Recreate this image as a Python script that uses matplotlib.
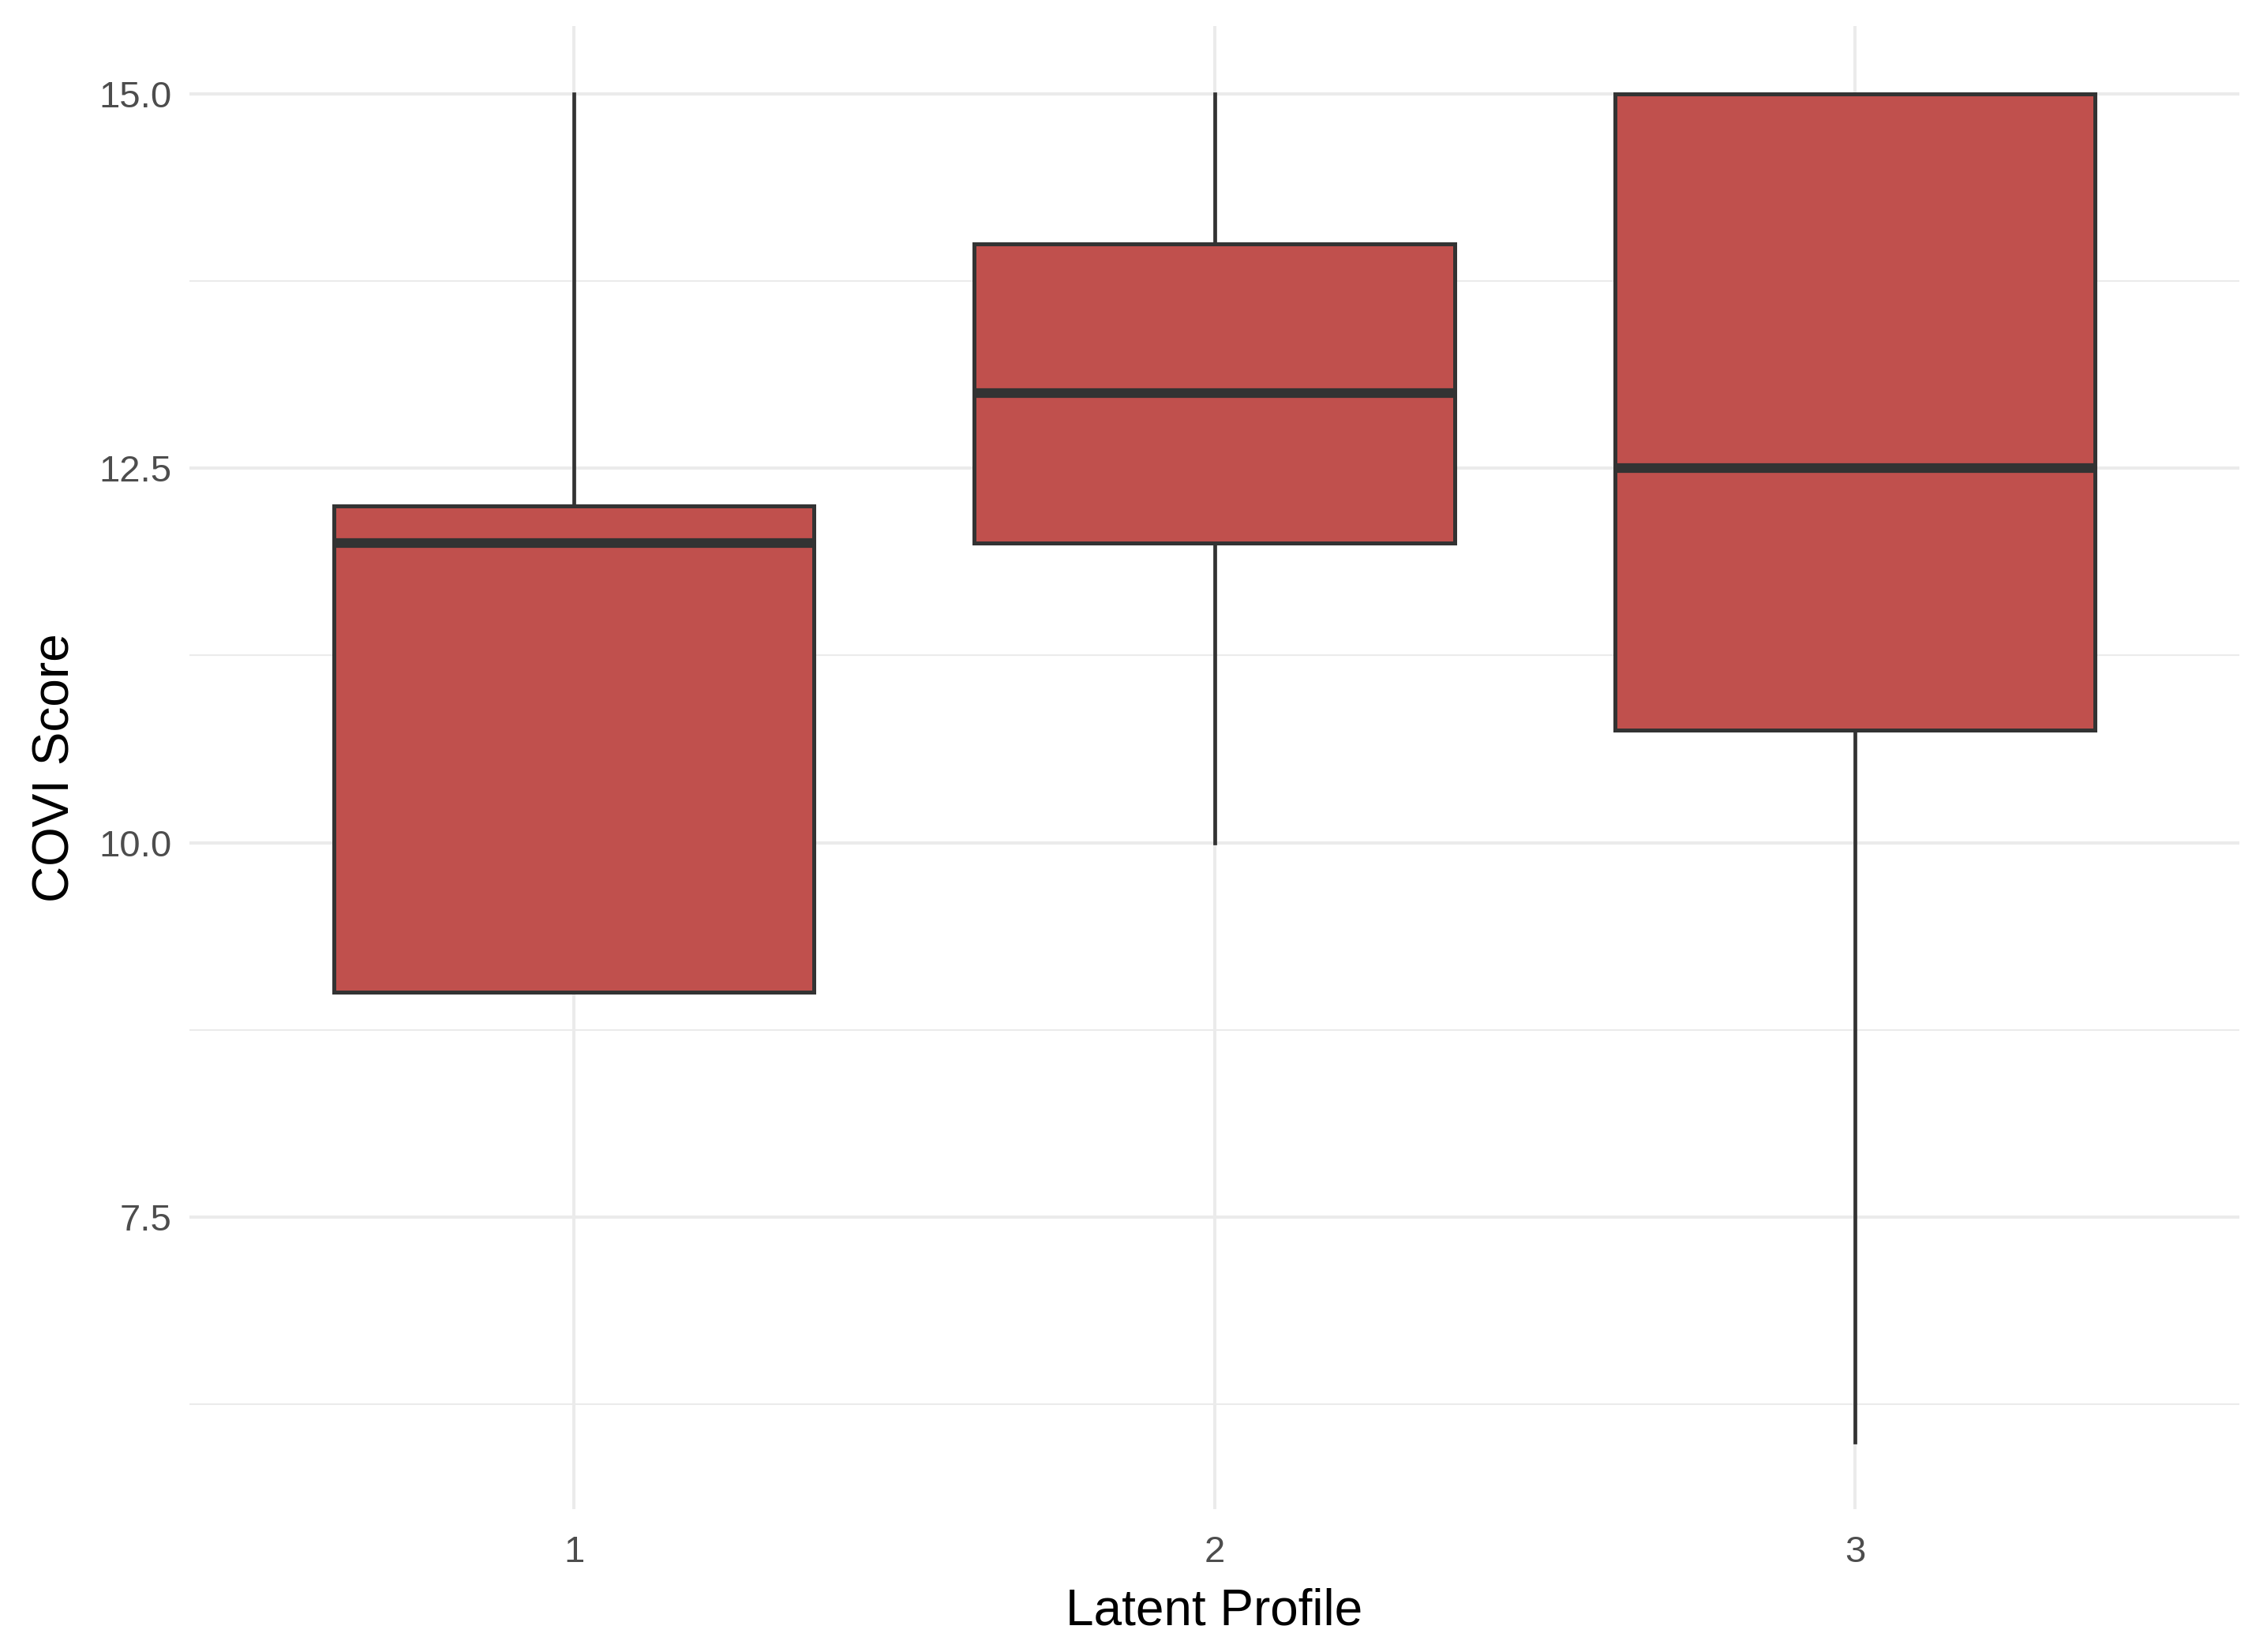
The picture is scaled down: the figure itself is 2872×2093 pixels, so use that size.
import matplotlib
matplotlib.use('Agg')
import matplotlib.pyplot as plt
from matplotlib.ticker import MultipleLocator

# box statistics per latent profile
profiles = ['1', '2', '3']
whisk_lo = [9.0, 10.0, 6.0]
q1       = [9.0, 12.0, 10.75]
median   = [12.0, 13.0, 12.5]
q3       = [12.25, 14.0, 15.0]
whisk_hi = [15.0, 15.0, 15.0]

fill  = '#C0504D'
edge  = '#333333'

plt.rcParams['font.family'] = ['Liberation Sans', 'DejaVu Sans']

fig = plt.figure(figsize=(14.36, 10.465), dpi=200)
ax = fig.add_axes([0.0836, 0.0865, 0.9042, 0.8975])

stats = []
for lab, lo, a, m, b, hi in zip(profiles, whisk_lo, q1, median, q3, whisk_hi):
    stats.append(dict(label=lab, whislo=lo, q1=a, med=m, q3=b, whishi=hi, fliers=[]))

pos = list(range(1, len(profiles) + 1))
ax.bxp(stats, positions=pos, widths=0.75, patch_artist=True, showcaps=False,
       boxprops=dict(facecolor=fill, edgecolor=edge, linewidth=1.8),
       medianprops=dict(color=edge, linewidth=4.4, solid_capstyle='butt'),
       whiskerprops=dict(color=edge, linewidth=1.7),
       zorder=3)

ax.set_xlim(0.4, 3.6)
ax.set_ylim(5.55, 15.45)
ax.yaxis.set_minor_locator(MultipleLocator(1.25))
ax.set_yticks([7.5, 10.0, 12.5, 15.0])
ax.set_yticklabels(['7.5', '10.0', '12.5', '15.0'])
ax.set_xticks(pos)
ax.set_xticklabels(profiles)

ax.grid(which='major', color='#EBEBEB', linewidth=1.45, zorder=0)
ax.grid(which='minor', axis='y', color='#EBEBEB', linewidth=0.75, zorder=0)
ax.set_axisbelow(True)
for s in ax.spines.values():
    s.set_visible(False)
ax.tick_params(which='both', length=0, labelsize=17, labelcolor='#4D4D4D')
ax.tick_params(axis='y', pad=8)
ax.tick_params(axis='x', pad=12)

ax.set_xlabel('Latent Profile', fontsize=23, color='black', labelpad=8)
ax.set_ylabel('COVI Score', fontsize=23, color='black', labelpad=9)

fig.savefig('out.png', dpi=200, facecolor='white')
